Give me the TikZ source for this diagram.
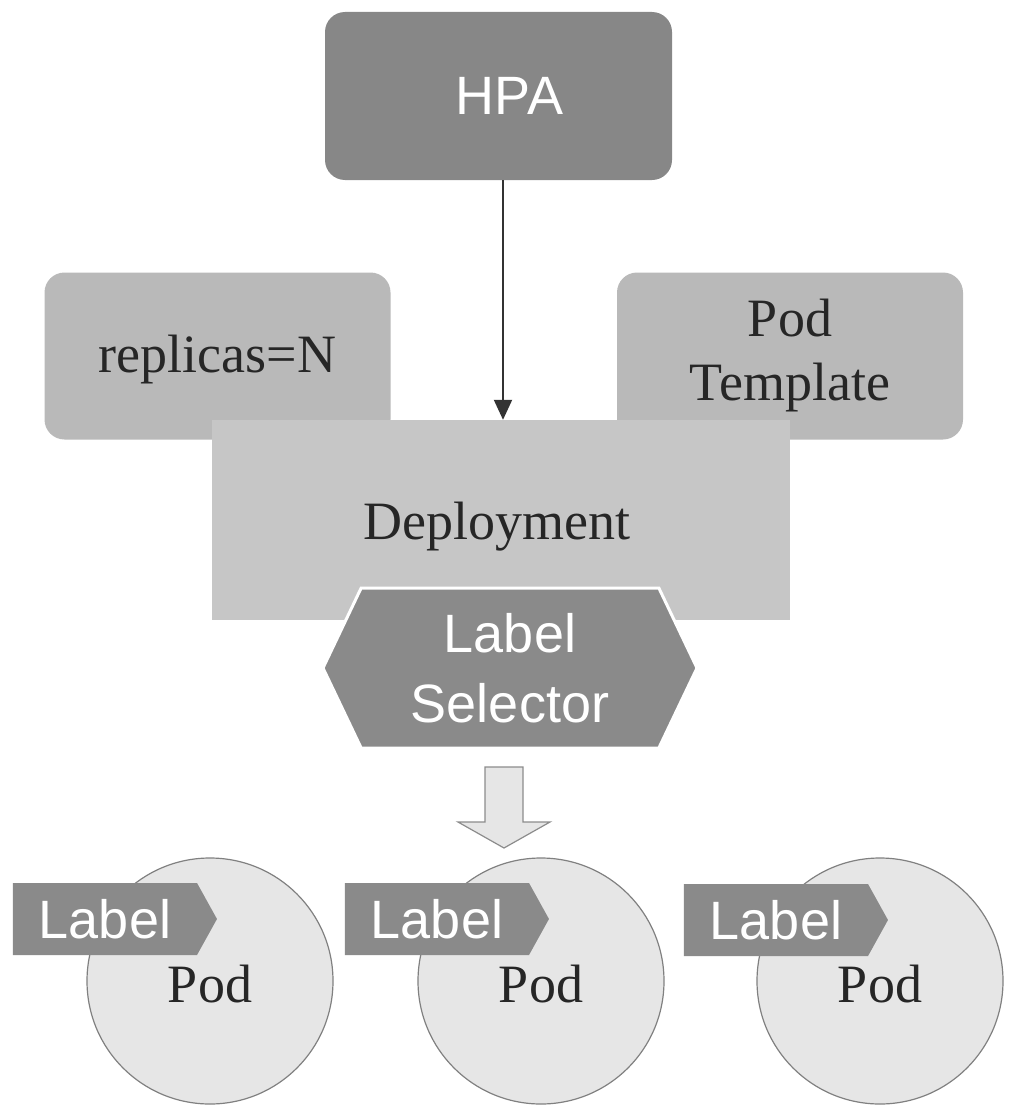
\documentclass[tikz,border=0pt]{standalone}
\usepackage{fontspec}
\setmainfont{Liberation Serif}
\setsansfont{Liberation Sans}
\usetikzlibrary{shapes.symbols,arrows.meta}
\definecolor{hpagray}{HTML}{878787}
\definecolor{boxgray}{HTML}{B9B9B9}
\definecolor{depgray}{HTML}{C6C6C6}
\definecolor{selgray}{HTML}{8A8A8A}
\definecolor{podfill}{HTML}{E6E6E6}
\definecolor{podline}{HTML}{808080}
\definecolor{inktext}{HTML}{262626}
\tikzset{
  serif/.style={font=\fontsize{54}{64}\selectfont\rmfamily, text=inktext},
  sans/.style={font=\fontsize{54}{70}\selectfont\sffamily, text=white},
  roundbox/.style={rectangle, rounded corners=20pt, fill=boxgray, minimum width=346pt, minimum height=167pt, inner sep=0pt, serif, align=center},
  hpabox/.style={rectangle, rounded corners=20pt, fill=hpagray, minimum width=347pt, minimum height=168pt, inner sep=0pt, sans},
  depbox/.style={rectangle, fill=depgray, minimum width=578pt, minimum height=200pt, inner sep=0pt, serif},
  selbox/.style={signal, signal to=east and west, signal pointer angle=129, fill=selgray, draw=white, line width=3pt, minimum width=374pt, minimum height=160pt, inner sep=0pt, sans, align=center},
  tagbox/.style={signal, signal to=east, signal pointer angle=122, fill=selgray, minimum width=204pt, minimum height=72pt, inner sep=0pt, sans},
  podcircle/.style={circle, fill=podfill, draw=podline, line width=1.2pt, minimum size=246pt, inner sep=0pt, serif, text height=44pt, text depth=1pt},
  connector/.style={draw=black!80, line width=2pt, -{Triangle[width=18pt,length=20pt]}},
  hollowarrow/.style={fill=podfill, draw=black!45, line width=1.2pt, line join=miter}
}
\begin{document}
\begin{tikzpicture}[x=1pt,y=-1pt]
\useasboundingbox (0,0) rectangle (1012,1116);
\node[hpabox] (hpa) at (498.5,96) {\hspace*{22pt}HPA};
\node[roundbox, text height=45pt, text depth=12pt] (rep) at (217.5,356) {replicas=N};
\node[roundbox] (tpl) at (790,356) {Pod\\Template};
\node[depbox, text height=50pt, text depth=12pt] (dep) at (501,520) {Deployment\hspace*{8pt}};
\coordinate (hpaout) at (503,180);
\draw[connector] (hpaout) -- (hpaout |- dep.north);
\node[selbox] (sel) at (510,668) {Label\\Selector};
\coordinate (arrtop) at (504,767);
\path[hollowarrow] (arrtop) ++(-19,0) -- ++(0,55) -- ++(-27,0) -- ++(46,26) -- ++(46,-26) -- ++(-27,0) -- ++(0,-55) -- cycle;
\node[podcircle] (pod1) at (210,981) {Pod};
\node[podcircle] (pod2) at (541,981) {Pod};
\node[podcircle] (pod3) at (880,981) {Pod};
\node[tagbox] (tag1) at (105,919) {Label};
\node[tagbox] (tag2) at (437,919) {Label};
\node[tagbox] (tag3) at (776,920) {Label};
\end{tikzpicture}
\end{document}
